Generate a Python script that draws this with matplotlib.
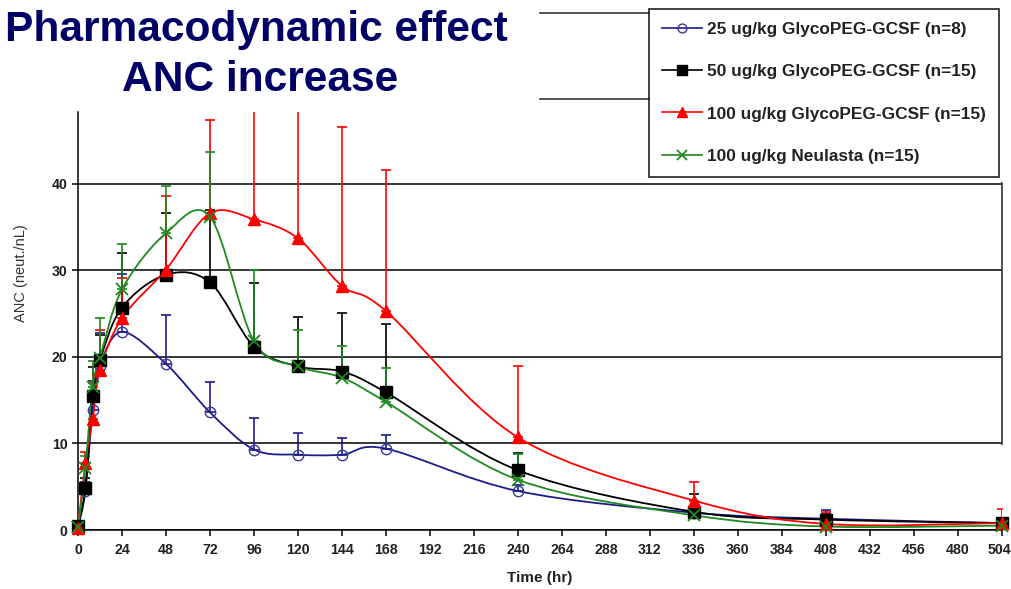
import matplotlib
matplotlib.use("Agg")
import matplotlib.pyplot as plt
from matplotlib.lines import Line2D
from matplotlib.path import Path
from matplotlib.patches import PathPatch
from matplotlib.transforms import ScaledTranslation
import numpy as np

plt.rcParams['font.family'] = ['Liberation Sans', 'DejaVu Sans']

# Sampling times (hr)
hours = [0, 4, 8, 12, 24, 48, 72, 96, 120, 144, 168, 240, 336, 408, 504]

# Mean ANC (neut./nL) and upper SD for each group
anc_25 = [0.3, 4.5, 13.9, 19.0, 22.9, 19.2, 13.6, 9.3, 8.7, 8.7, 9.4, 4.5, 2.0, 1.3, 0.8]
sd_25 = [0.3, 1.0, 3.3, 3.8, 6.7, 5.6, 3.5, 3.6, 2.5, 1.9, 1.6, 0.7, 0.5, 1.0, 0.4]

anc_50 = [0.5, 4.9, 15.5, 19.6, 25.7, 29.5, 28.6, 21.2, 18.9, 18.3, 15.9, 6.9, 2.1, 1.2, 0.8]
sd_50 = [0.3, 1.1, 3.3, 2.9, 6.3, 7.1, 8.4, 7.3, 5.7, 6.8, 7.9, 2.0, 2.1, 0.6, 0.5]

anc_100 = [0.2, 7.7, 12.8, 18.5, 24.5, 30.1, 36.6, 35.9, 33.7, 28.2, 25.3, 10.7, 3.4, 0.7, 0.8]
sd_100 = [0.3, 1.3, 4.2, 4.6, 4.6, 8.5, 10.8, 16.0, 20.0, 18.4, 16.3, 8.2, 2.1, 1.4, 1.6]

anc_neu = [0.3, 7.2, 16.5, 19.9, 27.8, 34.3, 36.2, 21.8, 18.9, 17.6, 14.8, 5.8, 1.7, 0.4, 0.5]
sd_neu = [0.3, 1.3, 3.0, 4.6, 5.3, 5.4, 7.5, 8.2, 4.2, 3.7, 3.9, 3.0, 0.6, 0.4, 0.5]

labels = ["25 ug/kg GlycoPEG-GCSF (n=8)",
          "50 ug/kg GlycoPEG-GCSF (n=15)",
          "100 ug/kg GlycoPEG-GCSF (n=15)",
          "100 ug/kg Neulasta (n=15)"]

W, H = 1012, 589


def smooth_path(x, y):
    # Bezier segments like a spreadsheet "smoothed line"
    p = np.column_stack([x, y]).astype(float)
    verts = [p[0]]
    codes = [Path.MOVETO]
    n = len(p)
    for i in range(n - 1):
        p0 = p[i - 1] if i > 0 else p[i]
        p3 = p[i + 2] if i + 2 < n else p[i + 1]
        c1 = p[i] + (p[i + 1] - p0) / 6.0
        c2 = p[i + 1] - (p3 - p[i]) / 6.0
        verts += [c1, c2, p[i + 1]]
        codes += [Path.CURVE4] * 3
    return Path(verts, codes)


fig = plt.figure(figsize=(W / 100, H / 100), dpi=100)
ax = fig.add_axes([78 / W, 1 - 530 / H, 924 / W, 418 / H])

series = [
    (anc_25, sd_25, '#1c1c8a', dict(marker='o', markersize=7.5, markerfacecolor='none',
                                    markeredgecolor='#3a3a9a', markeredgewidth=1.0)),
    (anc_50, sd_50, '#000000', dict(marker='s', markersize=8.5, markerfacecolor='black',
                                    markeredgecolor='black')),
    (anc_100, sd_100, '#ff0000', dict(marker='^', markersize=9, markerfacecolor='red',
                                      markeredgecolor='red')),
    (anc_neu, sd_neu, '#1f8a1f', dict(marker='x', markersize=9, markeredgecolor='#1f8a1f',
                                      markeredgewidth=1.3)),
]

handles = []
for k, (vals, sd, col, mk) in enumerate(series):
    ax.errorbar(hours, vals, yerr=[np.zeros(len(sd)), sd], fmt='none', ecolor=col,
                elinewidth=1.2, capsize=3.5, capthick=1.2, zorder=2 + k * 0.1)
    ax.add_patch(PathPatch(smooth_path(hours, vals), fill=False, edgecolor=col,
                           lw=1.3, zorder=3 + k * 0.1))
    ax.plot(hours, vals, linestyle='none', clip_on=False, zorder=4 + k * 0.1, **mk)
    leg_mk = dict(mk)
    leg_mk['markersize'] = mk['markersize'] * 0.85
    handles.append(Line2D([0], [0], color=col, lw=1.2, **leg_mk))

ax.set_xlim(0, 504)
ax.set_ylim(0, 48.3)
ax.set_xticks(range(0, 505, 24))
ax.set_yticks([0, 10, 20, 30, 40])
ax.yaxis.grid(True, color='black', lw=1.1)
ax.set_axisbelow(True)
for s in ['top', 'right']:
    ax.spines[s].set_visible(False)
for s in ['left', 'bottom']:
    ax.spines[s].set_linewidth(1.1)
ax.tick_params(axis='both', length=4.5, width=1.1, labelsize=10.2, colors='black')
ax.tick_params(axis='x', pad=5)
ax.tick_params(axis='y', pad=3)
for lab in ax.get_xticklabels() + ax.get_yticklabels():
    lab.set_fontweight('bold')
    lab.set_color('#222222')
# keep the last hour label inside the picture
last = ax.get_xticklabels()[-1]
last.set_transform(last.get_transform() + ScaledTranslation(-3 / 100, 0, fig.dpi_scale_trans))

fig.text(540 / W, 1 - 578 / H, 'Time (hr)', fontsize=11, fontweight='bold',
         color='#222222', ha='center', va='center')
fig.text(21 / W, 1 - 273 / H, 'ANC (neut./nL)', rotation=90, fontsize=10.5,
         color='#333333', ha='center', va='center')

fig.text(256 / W, 1 - 30 / H, 'Pharmacodynamic effect', fontsize=30.6, fontweight='bold',
         color='#000066', ha='center', va='center')
fig.text(260 / W, 1 - 80 / H, 'ANC increase', fontsize=30.6, fontweight='bold',
         color='#000066', ha='center', va='center')

leg = fig.legend(handles, labels, loc='upper left', bbox_to_anchor=(649 / W, 1 - 9 / H),
                 prop={'weight': 'bold', 'size': 12.4}, frameon=True,
                 fancybox=False, borderpad=0.75, handlelength=2.3, handletextpad=0.33,
                 labelspacing=1.58, borderaxespad=0)
leg.get_frame().set_edgecolor('black')
leg.get_frame().set_linewidth(1.3)
for t in leg.get_texts():
    t.set_color('#222222')

# leftover frame lines around the legend
fig.add_artist(Line2D([540 / W, 649 / W], [1 - 13 / H, 1 - 13 / H], color='#333333', lw=1.2))
fig.add_artist(Line2D([540 / W, 649 / W], [1 - 99 / H, 1 - 99 / H], color='#333333', lw=1.2))
fig.add_artist(Line2D([1002 / W, 1002 / W], [1 - 183 / H, 1 - 444 / H], color='#333333', lw=1.2))

fig.savefig('out.png', dpi=100)
